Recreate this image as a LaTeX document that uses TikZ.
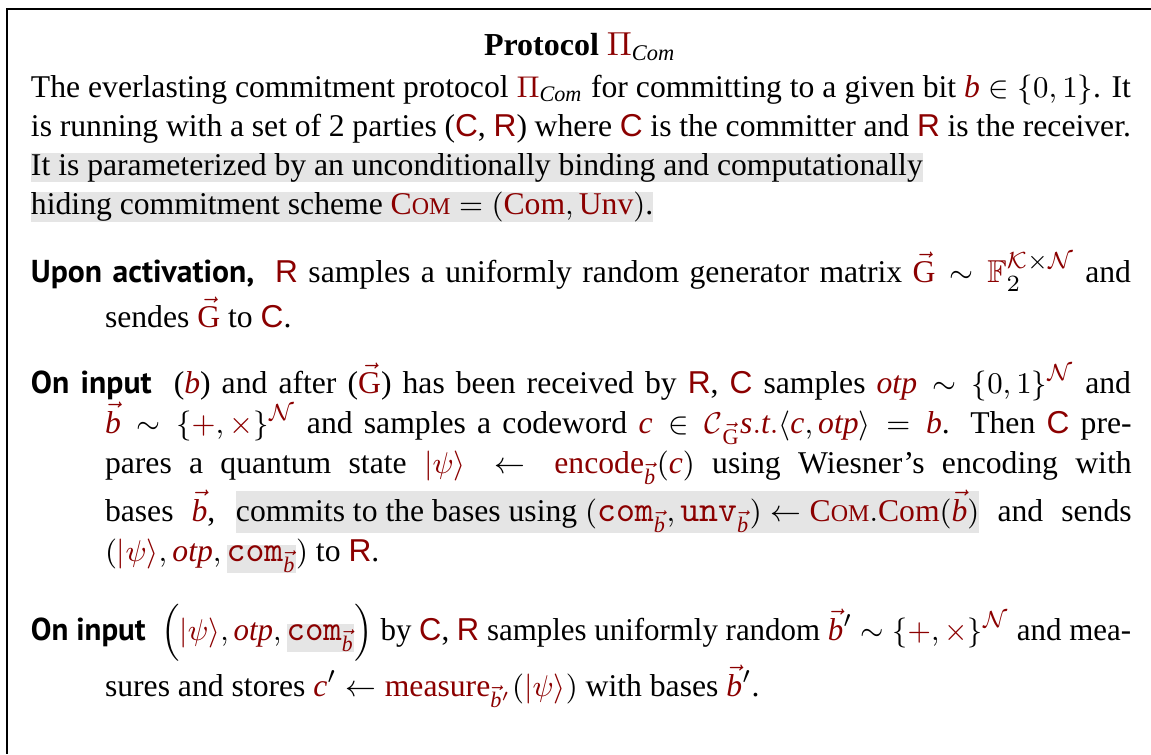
\documentclass[tikz,border=0pt]{standalone}
\usepackage{amsmath,amssymb}
\usepackage{graphicx}
\usepackage{fontspec}
\setmainfont{Liberation Serif}
\setsansfont{Liberation Sans}
\newfontfamily\headfont{PT Sans}

\definecolor{mred}{RGB}{139,0,0}
\definecolor{hlgray}{RGB}{229,229,229}

% notation
\newcommand{\rd}[1]{\textcolor{mred}{#1}}
\newcommand{\pC}{\rd{\textsf{C}}}
\newcommand{\pR}{\rd{\textsf{R}}}
\newcommand{\vb}{\vec{\mathit{b}}}
\newcommand{\rvb}{\textcolor{mred}{\vb}}
\newcommand{\rbit}{\textcolor{mred}{\mathit{b}}}
\newcommand{\vG}{\textcolor{mred}{\vec{\mathrm{G}}}}
\newcommand{\cw}{\textcolor{mred}{\mathit{c}}}
\newcommand{\otp}{\textcolor{mred}{\mathit{otp}}}
\newcommand{\ketpsi}{\textcolor{mred}{|\psi\rangle}}
\newcommand{\ttw}[1]{\mbox{\fontsize{10.8}{11}\selectfont\ttfamily #1}}
\newcommand{\comb}{\textcolor{mred}{\ttw{com}_{\vb}}}
\newcommand{\unvb}{\textcolor{mred}{\ttw{unv}_{\vb}}}
\newcommand{\ComS}{\textcolor{mred}{\mbox{C\fontsize{7.2}{8}\selectfont OM}}}
\newcommand{\PiCom}{\textcolor{mred}{\Pi}_{\mathit{Com}}}
\newcommand{\plx}{\{\textcolor{mred}{+},\textcolor{mred}{\times}\}^{\textcolor{mred}{\mathcal{N}}}}
\newcommand{\hlbox}[1]{{\setlength{\fboxsep}{0pt}\colorbox{hlgray}{#1}}}
\newcommand{\head}[1]{{\headfont\bfseries\fontsize{9.5}{10}\selectfont #1}}

\tikzset{
  txtline/.style={anchor=base west, inner sep=0pt, outer sep=0pt,
                  font=\fontsize{9.5}{11}\selectfont},
  titleline/.style={anchor=base, inner sep=0pt,
                  font=\fontsize{9.6}{12}\selectfont\bfseries},
  frame/.style={line width=0.45pt}
}

\begin{document}
\begin{tikzpicture}[x=0.3pt,y=-0.3pt]
\useasboundingbox (0,0) rectangle (1151,754);

% open frame: top rule and left rule
\coordinate (corner) at (7,9);
\coordinate (topend) at (1151,9);
\coordinate (leftend) at (7,754);
\draw[frame] (topend) -- (corner) -- (leftend);

\node[titleline] (title) at (580,55) {Protocol $\PiCom$};

% introduction
\node[txtline] (l1) at (31,97) {\makebox[330pt][s]{The everlasting commitment protocol $\PiCom$ for committing to a given bit $\rbit\in\{0,1\}$. It}};
\node[txtline] (l2) at (31,136) {\makebox[330pt][s]{is running with a set of 2 parties (\pC, \pR) where \pC\ is the committer and \pR\ is the receiver.}};
\node[txtline] (l3) at (31,175) {\hlbox{It is parameterized by an unconditionally binding and computationally}};
\node[txtline] (l4) at (31,214) {\hlbox{hiding commitment scheme $\ComS=(\rd{\mathrm{Com}},\rd{\mathrm{Unv}})$.}};

% activation
\node[txtline] (a1) at (31,282) {\makebox[330pt][s]{\head{Upon activation,}\ \ \pR\ samples a uniformly random generator matrix $\vG\sim\textcolor{mred}{\mathbb{F}}_2^{\textcolor{mred}{\mathcal{K}}\times\textcolor{mred}{\mathcal{N}}}$ and}};
\node[txtline] (a2) at (105,327) {sendes $\vG$ to \pC.};

% committer input
\node[txtline] (c1) at (31,393) {\makebox[330pt][s]{\head{On input}\ \ ($\rbit$) and after ($\vG$) has been received by \pR, \pC\ samples $\otp\sim\{0,1\}^{\textcolor{mred}{\mathcal{N}}}$ and}};
\node[txtline] (c2) at (105,433) {\makebox[308pt][s]{$\rvb\sim\plx$ and samples a codeword $\cw\in\textcolor{mred}{\mathcal{C}}_{\vG}\textcolor{mred}{\mathit{s.t.}}\langle\cw,\otp\rangle=\rbit$. Then \pC\ pre-}};
\node[txtline] (c3) at (105,473) {\makebox[308pt][s]{pares a quantum state $\ketpsi\leftarrow\textcolor{mred}{\mathrm{encode}_{\vb}}(\cw)$ using Wiesner's encoding with}};
\node[txtline] (c4) at (105,521) {\makebox[308pt][s]{bases $\rvb$, \hlbox{commits to the bases using $(\comb,\unvb)\leftarrow\ComS.\textcolor{mred}{\mathrm{Com}}(\rvb)$} and sends}};
\node[txtline] (c5) at (105,561) {$(\ketpsi,\otp,\hlbox{$\comb$})$ to \pR.};

% receiver input
\node[txtline] (r1) at (31,640) {\resizebox{330pt}{\height}{\head{On input}\ \ $\Bigl(\ketpsi,\otp,\hlbox{$\comb$}\Bigr)$ by \pC, \pR\ samples uniformly random $\rvb'\sim\plx$ and mea-}};
\node[txtline] (r2) at (105,696) {sures and stores $\cw'\leftarrow\textcolor{mred}{\mathrm{measure}_{\vb'}}(\ketpsi)$ with bases $\rvb'$.};
\end{tikzpicture}
\end{document}
